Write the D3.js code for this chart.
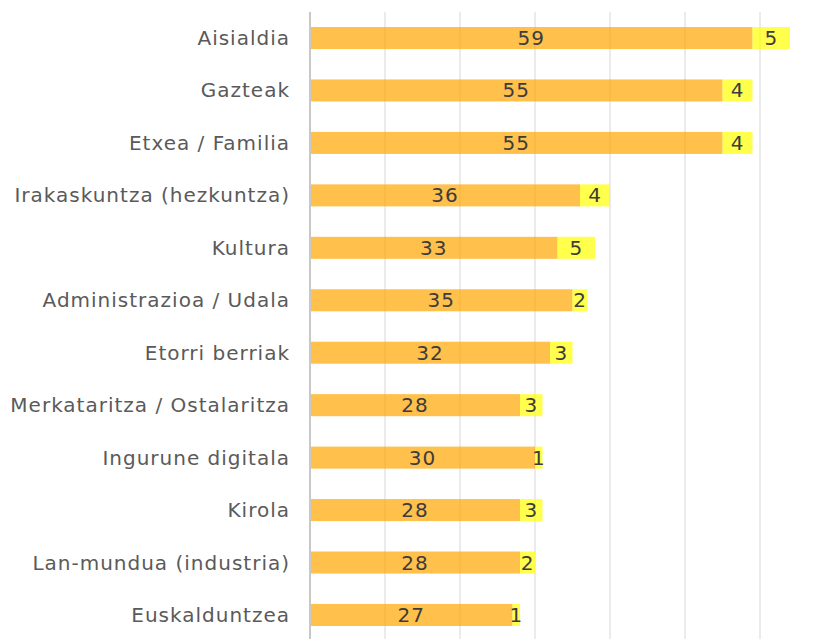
<!DOCTYPE html>
<html>
<head>
<meta charset="utf-8">
<script src="https://cdn.jsdelivr.net/npm/d3@7"></script>
<style>
  body { margin: 0; background: #fff; }
  svg { font-family: "DejaVu Sans", sans-serif; }
  .label { fill: #5a5a5a; font-size: 20px; letter-spacing: 1px; }
  .val { fill: #3c3c3c; font-size: 20px; letter-spacing: 1px; }
</style>
</head>
<body>
<svg id="chart" width="825" height="639"></svg>
<script>
var categories = ["Aisialdia", "Gazteak", "Etxea / Familia", "Irakaskuntza (hezkuntza)", "Kultura",
  "Administrazioa / Udala", "Etorri berriak", "Merkataritza / Ostalaritza", "Ingurune digitala",
  "Kirola", "Lan-mundua (industria)", "Euskalduntzea"];
var seriesA = [59, 55, 55, 36, 33, 35, 32, 28, 30, 28, 28, 27];
var seriesB = [5, 4, 4, 4, 5, 2, 3, 3, 1, 3, 2, 1];
var gridTicks = [10, 20, 30, 40, 50, 60];

var svg = d3.select("#chart");
var x0 = 310;
var x = d3.scaleLinear().domain([0, 10]).range([x0, x0 + 75]);
var y = d3.scaleBand().domain(categories).range([11.8, 641.2]).paddingInner(0.58).paddingOuter(0.29);

// grid
svg.append("g").selectAll("line")
  .data(gridTicks)
  .enter().append("line")
  .attr("x1", function(d) { return x(d); })
  .attr("x2", function(d) { return x(d); })
  .attr("y1", 12)
  .attr("y2", 639)
  .attr("stroke", "#ebebeb")
  .attr("stroke-width", 2);

var rows = svg.append("g").selectAll("g")
  .data(categories)
  .enter().append("g")
  .attr("transform", function(d) { return "translate(0," + y(d) + ")"; });

rows.append("rect")
  .attr("x", x(0))
  .attr("width", function(d, i) { return x(seriesA[i]) - x(0); })
  .attr("height", y.bandwidth())
  .attr("fill", "orange")
  .attr("fill-opacity", 0.7);

rows.append("rect")
  .attr("x", function(d, i) { return x(seriesA[i]); })
  .attr("width", function(d, i) { return x(seriesA[i] + seriesB[i]) - x(seriesA[i]); })
  .attr("height", y.bandwidth())
  .attr("fill", "yellow")
  .attr("fill-opacity", 0.7);

rows.append("text")
  .attr("class", "val")
  .attr("x", function(d, i) { return (x(0) + x(seriesA[i])) / 2; })
  .attr("y", y.bandwidth() / 2)
  .attr("dy", ".35em")
  .attr("text-anchor", "middle")
  .text(function(d, i) { return seriesA[i]; });

rows.append("text")
  .attr("class", "val")
  .attr("x", function(d, i) { return (x(seriesA[i]) + x(seriesA[i] + seriesB[i])) / 2; })
  .attr("y", y.bandwidth() / 2)
  .attr("dy", ".35em")
  .attr("text-anchor", "middle")
  .text(function(d, i) { return seriesB[i]; });

rows.append("text")
  .attr("class", "label")
  .attr("x", 290)
  .attr("y", y.bandwidth() / 2)
  .attr("dy", ".35em")
  .attr("text-anchor", "end")
  .text(function(d) { return d; });

// axis line
svg.append("line")
  .attr("x1", x0)
  .attr("x2", x0)
  .attr("y1", 12)
  .attr("y2", 639)
  .attr("stroke", "#c8c8c8")
  .attr("stroke-width", 2);
</script>
</body>
</html>
